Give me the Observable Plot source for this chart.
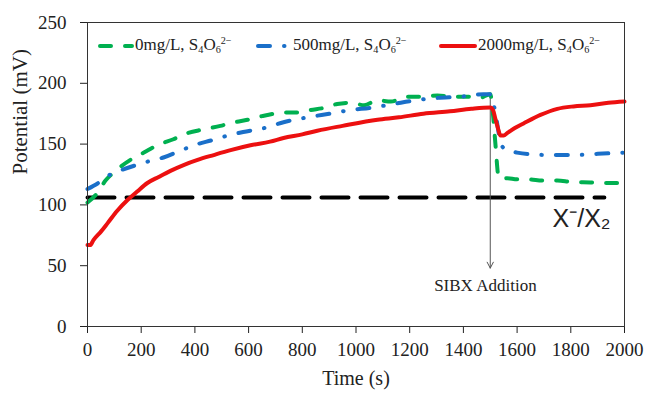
<!DOCTYPE html>
<html><head><meta charset="utf-8">
<script src="https://cdn.jsdelivr.net/npm/d3@7"></script>
<script src="https://cdn.jsdelivr.net/npm/@observablehq/plot@0.6"></script>
<style>
body{margin:0;background:#fff;}
#wrap{position:relative;width:645px;height:397px;font-family:"Liberation Serif",serif;color:#222;}
.leg{position:absolute;top:36px;height:20px;display:flex;align-items:center;font-size:17px;white-space:nowrap;line-height:1;}
.leg sub{font-size:0.6em;vertical-align:-0.3em;}
.leg sup{font-size:0.6em;vertical-align:0.55em;}
</style></head><body><div id="wrap"></div>
<script>
// ---- data ----
const xTicks = [0,200,400,600,800,1000,1200,1400,1600,1800,2000];
const yTicks = [0,50,100,150,200,250];

const times0 = [0,30,67,110,160,210,260,320,372,430,495,550,596,650,693,740,782,830,886,930,980,1030,1080,1130,1192,1250,1303,1360,1415,1460,1500,1510,1520,1531,1545,1563,1600,1638,1700,1750,1800,1873,1930,2000];
const pot0   = [102,108,120,129,137,143,149,154,159,162,165,168,170,173,175,176,176,178,180,183,184,182,186,185,189,189,190,189,189,188,191,175,148,123,121,122,121,121,120,120,119,118.5,118,118];

const times500 = [0,40,93,130,171,230,283,350,410,460,506,580,655,730,819,900,980,1060,1140,1220,1303,1390,1475,1500,1510,1520,1534,1545,1563,1600,1650,1730,1810,1900,2000];
const pot500   = [113,118,126,129,132,136,139,145,150,153,156,160,163,168,172,175,178,180,183,186,188,189,191,191,185,175,156,148,145,143,141.6,141,141,142,143];

const times2000 = [0,10,22,50,75,110,149,185,223,265,309,360,410,470,533,607,680,730,800,856,950,1080,1160,1251,1350,1430,1500,1510,1520,1530,1538,1550,1563,1590,1624,1687,1750,1810,1873,1940,2000];
const pot2000   = [67,67,71,78,85,95,104,111,118,123,128,133,137,141,145,149,152,155,158,161,165,170,172,175,177,179,180,178,170,162,157,157,159,163,167,174,179,181,182,184,185];

const refTimes = [0,1925];
const refPot = [106,106];

const seriesNames = ["0mg/L", "500mg/L", "2000mg/L"];
const seriesColors = ["#00b050", "#1a6fc9", "#ec1010"];
const seriesDash = ["11,14", "12,14,0.5,14", null];

const arrowData = [{t:1500, v1:192, v2:48}];
const annoSIBX = [{t:1482, v:34, label:"SIBX Addition"}];
const annoX = [{t:1840, v:88, label:"X\u207B/X\u2082"}];
const xTitle = ["Time (s)"];
const yTitle = ["Potential (mV)"];

// ---- build ----
const mk = (ts, vs) => ts.map((t,i)=>({t, v:vs[i]}));
const series = [mk(times0,pot0), mk(times500,pot500), mk(times2000,pot2000)];
const ref = mk(refTimes, refPot);

const lineMarks = series.map((d,i)=>Plot.line(d, {
  x:"t", y:"v", stroke:seriesColors[i], strokeWidth:4,
  strokeDasharray: seriesDash[i] || undefined, strokeLinecap:"round",
  curve:"monotone-x"
}));

const chart = Plot.plot({
  width:645, height:397,
  marginLeft:87, marginRight:21, marginTop:22, marginBottom:71,
  style:{fontFamily:"'Liberation Serif', serif", fontSize:"19px", color:"#222", background:"white"},
  x:{domain:[0,2000]},
  y:{domain:[0,250]},
  marks:[
    Plot.axisX({ticks:xTicks, tickSize:7, tickPadding:9, tickFormat:d=>String(d), label:null, fontSize:19}),
    Plot.axisY({ticks:yTicks, tickSize:7, tickPadding:14, tickFormat:d=>String(d), label:null, fontSize:19}),
    Plot.line(ref, {x:"t", y:"v", stroke:"black", strokeWidth:4, strokeDasharray:"27,12"}),
    Plot.arrow(arrowData, {x1:"t", x2:"t", y1:"v1", y2:"v2", stroke:"#555", strokeWidth:1, headLength:10, headAngle:55}),
    ...lineMarks,
    Plot.frame({stroke:"#333", strokeWidth:1}),
    Plot.text(annoSIBX, {x:"t", y:"v", text:"label", fontSize:17, fill:"#222"}),
    Plot.text(annoX, {x:"t", y:"v", text:"label", fontSize:25, fill:"#222", fontFamily:"'Liberation Sans', sans-serif"}),
    Plot.text(xTitle, {frameAnchor:"bottom", dy:58, text:d=>d, fontSize:20, fill:"#222"}),
    Plot.text(yTitle, {frameAnchor:"left", dx:-67, rotate:-90, text:d=>d, fontSize:21, fill:"#222"})
  ]
});
const wrap = document.getElementById("wrap");
wrap.appendChild(chart);

// ---- legend (HTML overlay) ----
const legPos = [{sw:98, w:36}, {sw:256, w:36}, {sw:439, w:38}];
seriesNames.forEach((name,i)=>{
  const div = document.createElement("div");
  div.className = "leg";
  div.style.left = legPos[i].sw + "px";
  const w = legPos[i].w;
  const dash = seriesDash[i] ? `stroke-dasharray="${seriesDash[i]}"` : "";
  div.innerHTML = `<svg width="${w}" height="10" style="margin-right:1px"><line x1="2" y1="5" x2="${w-2}" y2="5" stroke="${seriesColors[i]}" stroke-width="4" stroke-linecap="round" ${dash}/></svg><span>${name}, S<sub>4</sub>O<sub>6</sub><sup>2\u2212</sup></span>`;
  wrap.appendChild(div);
});
</script>
</body></html>
